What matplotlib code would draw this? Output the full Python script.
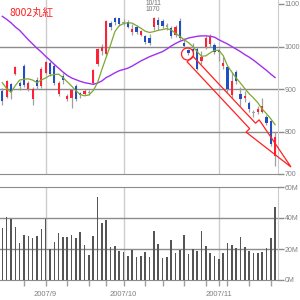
import numpy as np
import matplotlib
matplotlib.use("Agg")
import matplotlib.pyplot as plt
from matplotlib.patches import Circle, Polygon
from matplotlib.transforms import blended_transform_factory

# daily OHLC, 2007/8/20 .. 2007/11/20
opens = [895, 882, 911, 936, 915, 955, 899, 876, 922, 906,
         938, 960, 955, 888, 930, 876, 878, 908, 890, 888,
         893, 915, 958, 990, 982, 1056, 1068, 1066, 1058, 1058,
         1033, 1047, 1028, 1024, 1020, 1045, 1063, 1060, 1049, 1044,
         1028, 1060, 1008, 992, 995, 995, 966, 1000, 1006, 1004,
         992, 955, 951, 887, 941, 888, 878, 868, 846, 847,
         847, 835, 825, 742]
highs = [903, 922, 914, 955, 920, 958, 918, 905, 928, 952,
         967, 966, 960, 918, 938, 888, 900, 912, 893, 900,
         897, 948, 996, 1006, 1063, 1060, 1070, 1068, 1064, 1062,
         1052, 1050, 1040, 1028, 1030, 1070, 1069, 1064, 1056, 1048,
         1050, 1066, 1019, 995, 1008, 998, 990, 1025, 1030, 1008,
         995, 975, 953, 940, 945, 905, 895, 872, 850, 860,
         880, 838, 828, 800]
lows = [862, 878, 876, 934, 898, 905, 895, 862, 900, 902,
        935, 930, 910, 884, 912, 872, 855, 872, 880, 885,
        885, 912, 955, 980, 978, 1040, 1050, 1048, 1050, 1044,
        1028, 1030, 1024, 1005, 1004, 1040, 1038, 1044, 1040, 1020,
        1022, 1016, 996, 980, 975, 945, 960, 995, 1000, 983,
        965, 948, 893, 880, 912, 860, 870, 845, 835, 842,
        843, 815, 765, 720]
closes = [872, 918, 892, 952, 908, 910, 914, 900, 906, 948,
          964, 936, 915, 915, 922, 883, 897, 876, 886, 896,
          890, 945, 993, 1000, 1060, 1045, 1058, 1052, 1055, 1047,
          1042, 1034, 1036, 1010, 1008, 1066, 1050, 1048, 1047, 1025,
          1045, 1019, 1002, 984, 990, 948, 975, 1021, 1022, 987,
          986, 962, 899, 918, 918, 876, 884, 852, 843, 854,
          861, 821, 770, 788]

# moving averages as drawn (short = green, long = purple)
ma_short = [915, 901, 892, 908, 921, 923, 924, 921, 915, 921,
            926, 932, 934, 935, 927, 917, 907, 896, 887, 884,
            886, 896, 915, 946, 975, 1004, 1035, 1049, 1054, 1056,
            1055, 1049, 1043, 1036, 1033, 1035, 1038, 1040, 1042, 1039,
            1031, 1024, 1016, 1009, 1000, 988, 977, 978, 985, 991,
            991, 979, 955, 940, 926, 914, 901, 889, 879, 868,
            853, 842, 830, 816]
ma_long = [1071, 1064, 1056, 1046, 1038, 1027, 1016, 1006, 996, 987,
           977, 968, 958, 949, 940, 932, 926, 922, 918, 915,
           913, 911, 914, 919, 927, 932, 938, 943, 946, 949,
           954, 960, 966, 971, 976, 980, 984, 988, 994, 1001,
           1007, 1012, 1016, 1020, 1022, 1024, 1025, 1025, 1024, 1022,
           1016, 1011, 1006, 1000, 994, 988, 981, 975, 968, 960,
           952, 944, 935, 927]

# volume, millions of shares
volume = [33.3, 40.4, 39.1, 34.0, 23.7, 29.0, 28.4, 26.9, 28.4, 32.7,
          39.4, 19.8, 24.3, 30.1, 27.5, 27.5, 29.0, 26.9, 30.8, 22.6,
          16.1, 28.4, 53.3, 36.6, 38.7, 21.1, 21.9, 18.7, 18.1, 15.5,
          19.4, 14.6, 15.5, 18.1, 14.6, 31.6, 23.2, 14.0, 14.6, 25.8,
          17.6, 19.4, 29.0, 16.8, 19.8, 18.7, 31.8, 21.9, 17.2, 15.5,
          13.8, 17.6, 23.7, 22.6, 20.4, 27.5, 21.1, 18.9, 17.6, 17.6,
          18.3, 20.4, 26.9, 47.3]

month_idx = [10, 28, 50]
month_labels = ["2007/9", "2007/10", "2007/11"]
week_idx = [5, 15, 20, 24, 33, 37, 42, 47, 52, 57, 62]
price_ticks = [700, 800, 900, 1000, 1100]
vol_ticks = [0, 20, 40, 60]
vol_labels = ["0M", "20M", "40M", "60M"]

GRID = "#8c8c8c"
LIGHT = "#cccccc"
TXT = "#808080"
NARROW = ["Liberation Sans", "DejaVu Sans"]

fig = plt.figure(figsize=(3, 3), dpi=100)
W = 278 / 300
ax = fig.add_axes([0, 1 - 174 / 300, W, 174 / 300])
axv = fig.add_axes([0, 1 - 280 / 300, W, 93 / 300])

x = np.arange(len(closes))
xmin = -2.3 / 4.33
xmax = xmin + 278 / 4.33

# price panel
for m in month_idx:
    ax.axvline(m, color=LIGHT, lw=1, zorder=0)
for p in price_ticks[1:-1]:
    ax.axhline(p, color=GRID, lw=1, zorder=0)

o = np.array(opens)
c = np.array(closes)
ax.vlines(x, lows, highs, color="#a0a0a0", lw=0.9, zorder=2)
cols = np.where(c > o, "#ff2236", "#1f4fc0")
cols = np.where(np.abs(c - o) < 4, "#a0a0a0", cols)
hgt = np.maximum(np.abs(c - o), 2.5)
ax.bar(x, hgt, bottom=np.minimum(o, c), width=0.5, color=cols, zorder=3)

ax.plot(x, ma_long, color="#a030f0", lw=1.0, zorder=4)
ax.plot(x, ma_short, color="#80a830", lw=0.9, zorder=4)

ax.set_xlim(xmin, xmax)
ax.set_ylim(700, 700 + 174 / 0.425)
ax.set_yticks(price_ticks)
ax.set_yticklabels([str(p) for p in price_ticks])
ax.set_xticks([])
ax.yaxis.tick_right()
ax.tick_params(axis="y", length=4, width=1, color=GRID, labelsize=5,
               labelcolor=TXT, pad=1)
for lab in ax.get_yticklabels():
    lab.set_family(NARROW)
for s in ["top", "left"]:
    ax.spines[s].set_visible(False)
ax.spines["right"].set_color(LIGHT)
ax.spines["bottom"].set_color(GRID)
ax.patch.set_alpha(0)

# volume panel
for m in month_idx:
    axv.axvline(m, color=LIGHT, lw=1, zorder=0)
for v in vol_ticks[1:-1]:
    axv.axhline(v, color=GRID, lw=1, zorder=0)
axv.bar(x, volume, width=0.35, color="#555555", zorder=3)
axv.set_xlim(xmin, xmax)
axv.set_ylim(0, 60)
axv.set_yticks(vol_ticks)
axv.set_yticklabels(vol_labels)
axv.yaxis.tick_right()
axv.tick_params(axis="y", length=4, width=1, color=GRID, labelsize=5,
                labelcolor=TXT, pad=1)
for lab in axv.get_yticklabels():
    lab.set_family(NARROW)
axv.set_xticks(week_idx + month_idx)
axv.set_xticklabels([])
axv.tick_params(axis="x", length=4, width=1, color="#a0a0a0")
axv.spines["left"].set_visible(False)
axv.spines["right"].set_color(LIGHT)
axv.spines["top"].set_color(GRID)
axv.spines["bottom"].set_color(GRID)
tr = blended_transform_factory(axv.transData, axv.transAxes)
for m, lab in zip(month_idx, month_labels):
    axv.text(m, -15 / 93, lab, transform=tr, ha="center", va="center",
             fontsize=5.5, color=TXT, family=NARROW)

# title and high marker
fig.text(9 / 300, 1 - 13 / 300, "8002丸紅", color="#ff2020", fontsize=7.5,
         family=["Noto Sans CJK JP", "DejaVu Sans"], ha="left", va="center")
fig.text(153 / 300, 1 - 3.5 / 300, "10/11", color="#707070", fontsize=4.8,
         family=NARROW, ha="center", va="center")
fig.text(153 / 300, 1 - 9.5 / 300, "1070", color="#707070", fontsize=4.8,
         family=NARROW, ha="center", va="center")


def px(pt):
    return (pt[0] / 300, 1 - pt[1] / 300)


# red circle and hollow arrow
fig.patches.append(Circle(px((187.5, 54)), 6 / 300, transform=fig.transFigure,
                          fill=False, ec="#ff2020", lw=0.9))
T = np.array([190.0, 59.0])
P = np.array([291.0, 167.0])
u = (P - T) / np.hypot(*(P - T))
n = np.array([u[1], -u[0]])
B = T + 0.62 * (P - T)
w, Wd = 4.0, 9.0
pts = [T + w * n, B + w * n, B + Wd * n, P, B - Wd * n, B - w * n, T - w * n]
fig.patches.append(Polygon([px(q) for q in pts], closed=True,
                           transform=fig.transFigure, fill=False,
                           ec="#ff2020", lw=0.9))

fig.savefig("out.png", dpi=100)
